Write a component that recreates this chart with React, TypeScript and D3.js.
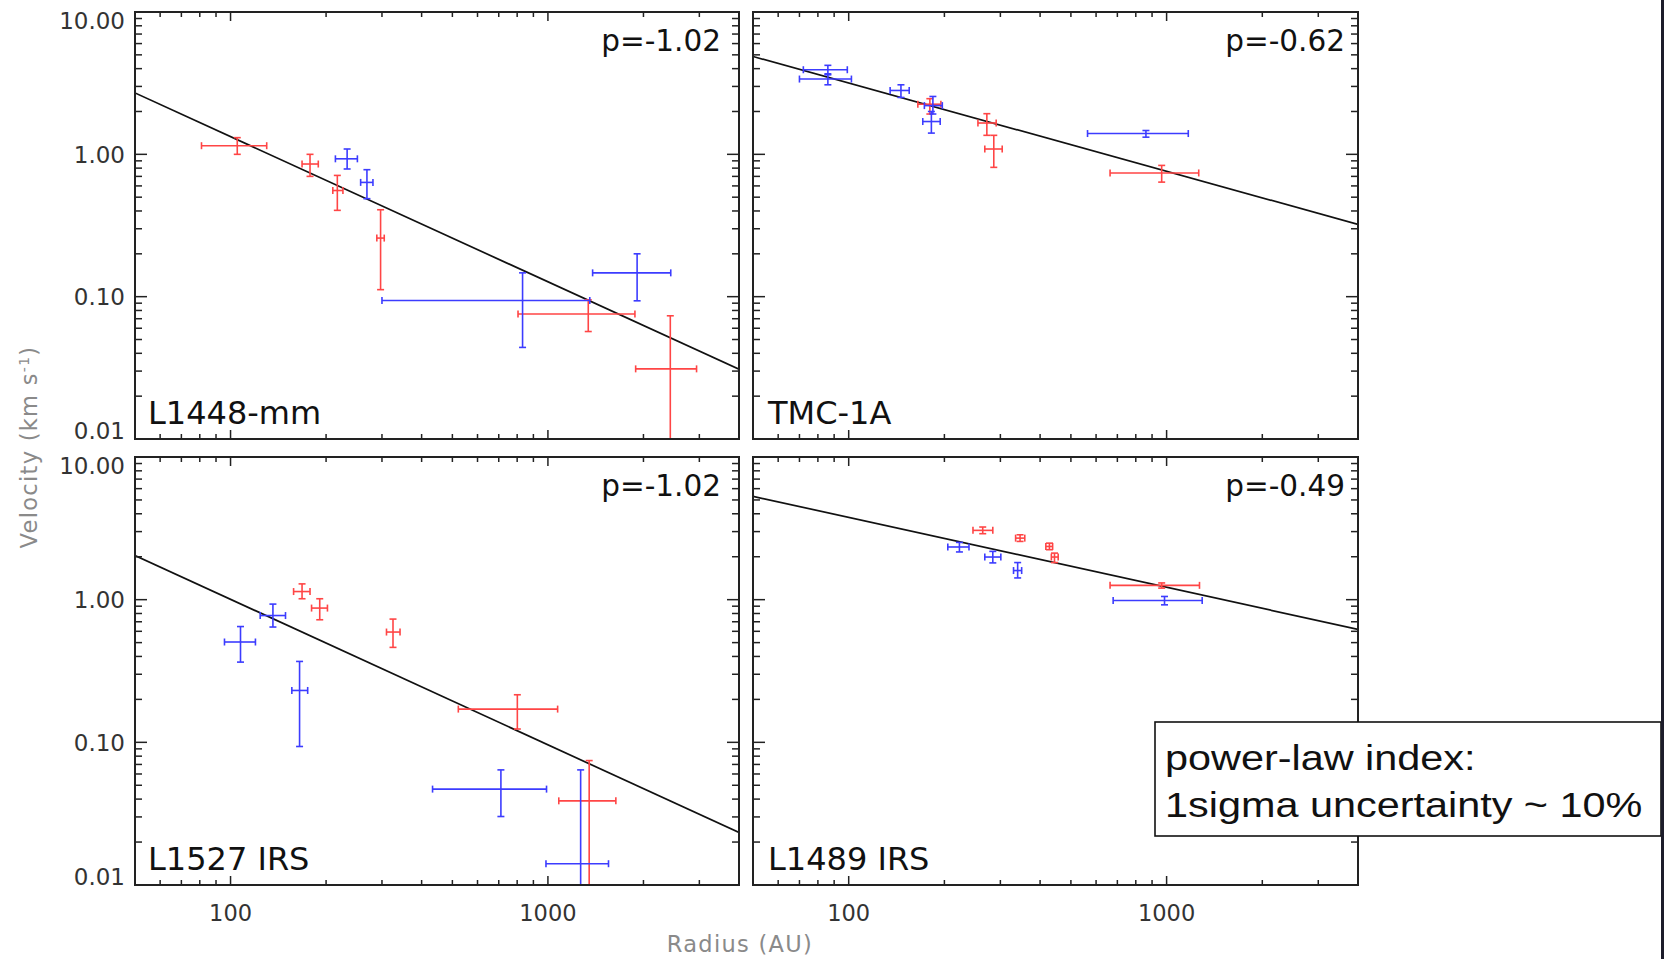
import React from "react";
import * as d3 from "d3";

const W = 1664;
const H = 959;

const panelNames = ["L1448-mm", "TMC-1A", "L1527 IRS", "L1489 IRS"];
const powerIndex = [-1.02, -0.62, -1.02, -0.49];
// fitted velocity (km/s) at 50 AU, the left edge of every panel
const fitAt50AU = [2.7, 4.87, 2.04, 5.3];

const radiusTicks = [100, 1000];
const velocityTicks = [0.01, 0.1, 1, 10];
const velocityLabels = ["0.01", "0.10", "1.00", "10.00"];

// [radius, radius lo, radius hi, velocity, velocity lo, velocity hi]
const l1448Red = [
  [105, 81, 130, 1.15, 1.0, 1.31],
  [178, 168, 189, 0.855, 0.7, 1.0],
  [217, 210, 226, 0.557, 0.404, 0.711],
  [297, 289, 305, 0.258, 0.112, 0.408],
  [1340, 805, 1880, 0.0755, 0.0569, 0.095],
  [2430, 1890, 2940, 0.0311, 0.007, 0.0734],
];
const l1448Blue = [
  [233, 214, 251, 0.93, 0.789, 1.09],
  [269, 257, 281, 0.635, 0.488, 0.78],
  [832, 300, 1355, 0.094, 0.044, 0.147],
  [1910, 1383, 2438, 0.147, 0.0935, 0.2],
];
const tmc1aRed = [
  [180, 165, 195, 2.25, 1.92, 2.46],
  [272, 255, 291, 1.66, 1.36, 1.93],
  [286, 268, 304, 1.09, 0.81, 1.36],
  [965, 664, 1262, 0.74, 0.638, 0.836],
];
const tmc1aBlue = [
  [86, 72, 99, 3.93, 3.68, 4.22],
  [86, 70, 102, 3.38, 3.08, 3.62],
  [146, 135, 155, 2.81, 2.51, 3.08],
  [184, 173, 197, 2.2, 1.92, 2.55],
  [182, 171, 194, 1.7, 1.41, 2.0],
  [861, 564, 1170, 1.4, 1.32, 1.47],
];
const l1527Red = [
  [168, 158, 178, 1.14, 1.015, 1.29],
  [191, 180, 202, 0.873, 0.723, 1.015],
  [325, 310, 342, 0.593, 0.463, 0.731],
  [801, 522, 1073, 0.171, 0.124, 0.2155],
  [1349, 1082, 1637, 0.0389, 0.007, 0.0745],
];
const l1527Blue = [
  [107.5, 95.7, 119.8, 0.505, 0.365, 0.648],
  [136, 124, 149, 0.774, 0.643, 0.931],
  [165, 156, 175, 0.231, 0.0935, 0.369],
  [711, 433, 990, 0.047, 0.0302, 0.0641],
  [1268, 986, 1552, 0.0141, 0.007, 0.0641],
];
const l1489Red = [
  [264, 246, 284, 3.06, 2.9, 3.23],
  [346, 335, 358, 2.7, 2.56, 2.85],
  [428, 417, 438, 2.36, 2.24, 2.49],
  [444, 434, 456, 1.99, 1.82, 2.12],
  [965, 664, 1269, 1.26, 1.205, 1.31],
];
const l1489Blue = [
  [223, 205, 239, 2.34, 2.16, 2.52],
  [284, 268, 301, 1.99, 1.81, 2.18],
  [340, 330, 350, 1.6, 1.42, 1.82],
  [985, 679, 1294, 0.987, 0.92, 1.053],
];

const redSets = [l1448Red, tmc1aRed, l1527Red, l1489Red];
const blueSets = [l1448Blue, tmc1aBlue, l1527Blue, l1489Blue];

// layout
const colLeft = [135, 753];
const colRight = [739, 1358];
const rowTop = [12, 457];
const rowBottom = [439, 885];

const RED = "#ff4545";
const BLUE = "#3c3cff";
const AXIS = "#222";

function ErrorBars({ pts, x, y, color }) {
  return (
    <g stroke={color} strokeWidth={1.6} fill="none">
      {pts.map((d, i) => {
        const [r, rLo, rHi, v, vLo, vHi] = d;
        const cx = x(r);
        const cy = y(v);
        return (
          <g key={i}>
            <line x1={x(rLo)} x2={x(rHi)} y1={cy} y2={cy} />
            <line x1={x(rLo)} x2={x(rLo)} y1={cy - 3.5} y2={cy + 3.5} />
            <line x1={x(rHi)} x2={x(rHi)} y1={cy - 3.5} y2={cy + 3.5} />
            <line x1={cx} x2={cx} y1={y(vLo)} y2={y(vHi)} />
            <line x1={cx - 3.5} x2={cx + 3.5} y1={y(vLo)} y2={y(vLo)} />
            <line x1={cx - 3.5} x2={cx + 3.5} y1={y(vHi)} y2={y(vHi)} />
          </g>
        );
      })}
    </g>
  );
}

function Panel({ i }) {
  const col = i % 2;
  const row = Math.floor(i / 2);
  const left = colLeft[col];
  const right = colRight[col];
  const top = rowTop[row];
  const bottom = rowBottom[row];

  const x = d3.scaleLog().domain([50, 4000]).range([left, right]);
  const y = d3.scaleLog().domain([0.01, 10]).range([bottom, top]);

  const isDecade = (v) => Math.abs(Math.log10(v) - Math.round(Math.log10(v))) < 1e-6;
  const xt = x.ticks().filter((t) => t > 50 && t < 4000);
  const yt = y.ticks().filter((t) => t > 0.01 && t < 10);

  const fit = d3
    .line()
    .x((r) => x(r))
    .y((r) => y(fitAt50AU[i] * Math.pow(r / 50, powerIndex[i])));

  const clipId = `clip-${i}`;

  return (
    <g>
      <defs>
        <clipPath id={clipId}>
          <rect x={left} y={top} width={right - left} height={bottom - top} />
        </clipPath>
      </defs>

      <g clipPath={`url(#${clipId})`}>
        <path d={fit([50, 4000])} stroke="#111" strokeWidth={1.7} fill="none" />
        <ErrorBars pts={redSets[i]} x={x} y={y} color={RED} />
        <ErrorBars pts={blueSets[i]} x={x} y={y} color={BLUE} />
      </g>

      {/* ticks on all four sides, pointing in */}
      <g stroke={AXIS} strokeWidth={1.5}>
        {xt.map((t) => {
          const len = isDecade(t) ? 9 : 5;
          return (
            <g key={"x" + t}>
              <line x1={x(t)} x2={x(t)} y1={bottom} y2={bottom - len} />
              <line x1={x(t)} x2={x(t)} y1={top} y2={top + len} />
            </g>
          );
        })}
        {yt.map((t) => {
          const len = isDecade(t) ? 12 : 7;
          return (
            <g key={"y" + t}>
              <line x1={left} x2={left + len} y1={y(t)} y2={y(t)} />
              <line x1={right} x2={right - len} y1={y(t)} y2={y(t)} />
            </g>
          );
        })}
      </g>

      <rect
        x={left}
        y={top}
        width={right - left}
        height={bottom - top}
        fill="none"
        stroke={AXIS}
        strokeWidth={2}
      />

      {col === 0 &&
        velocityTicks.map((t, k) => {
          const cy = Math.min(Math.max(y(t), top + 8.5), bottom - 8);
          return (
            <text
              key={"yl" + k}
              x={left - 10}
              y={cy}
              dy="0.36em"
              textAnchor="end"
              fontSize={23}
              fill="#333"
            >
              {velocityLabels[k]}
            </text>
          );
        })}

      {row === 1 &&
        radiusTicks.map((t) => (
          <text
            key={"xl" + t}
            x={x(t)}
            y={bottom + 36}
            textAnchor="middle"
            fontSize={22.5}
            fill="#333"
          >
            {t}
          </text>
        ))}

      <text
        x={right - (col === 0 ? 18 : 13)}
        y={top + 39}
        textAnchor="end"
        fontSize={29.5}
        fill="#111"
      >
        {"p=" + powerIndex[i].toFixed(2)}
      </text>
      <text x={left + (col === 0 ? 13 : 15)} y={bottom - 15} fontSize={32} fill="#111">
        {panelNames[i]}
      </text>
    </g>
  );
}

export default function App() {
  return (
    <div style={{ position: "absolute", left: 0, top: 0 }}>
      <svg
        width={W}
        height={H}
        style={{ display: "block", fontFamily: "'DejaVu Sans', sans-serif", background: "#fff" }}
      >
        <rect width={W} height={H} fill="#fff" />
        {[0, 1, 2, 3].map((i) => (
          <Panel key={i} i={i} />
        ))}

        <text
          transform="translate(37,447) rotate(-90)"
          textAnchor="middle"
          fontSize={22.5}
          fill="#8a8a8a"
          letterSpacing={1.3}
        >
          Velocity (km s<tspan fontSize={14} dy={-8}>-1</tspan>
          <tspan dy={8}>)</tspan>
        </text>
        <text x={740} y={952} textAnchor="middle" fontSize={22.5} fill="#8a8a8a" letterSpacing={1.3}>
          Radius (AU)
        </text>

        <rect x={1155} y={722} width={506} height={114} fill="#fff" stroke="#111" strokeWidth={1.6} />
        <g fontFamily="'Liberation Sans', Arial, sans-serif" fontSize={36} fill="#111">
          <text transform="translate(1165,770) scale(1.15,1)">power-law index:</text>
          <text transform="translate(1165,817) scale(1.15,1)">1sigma uncertainty ~ 10%</text>
        </g>

        <rect x={1661} y={0} width={3} height={H} fill="#1c1c2a" />
      </svg>
    </div>
  );
}
